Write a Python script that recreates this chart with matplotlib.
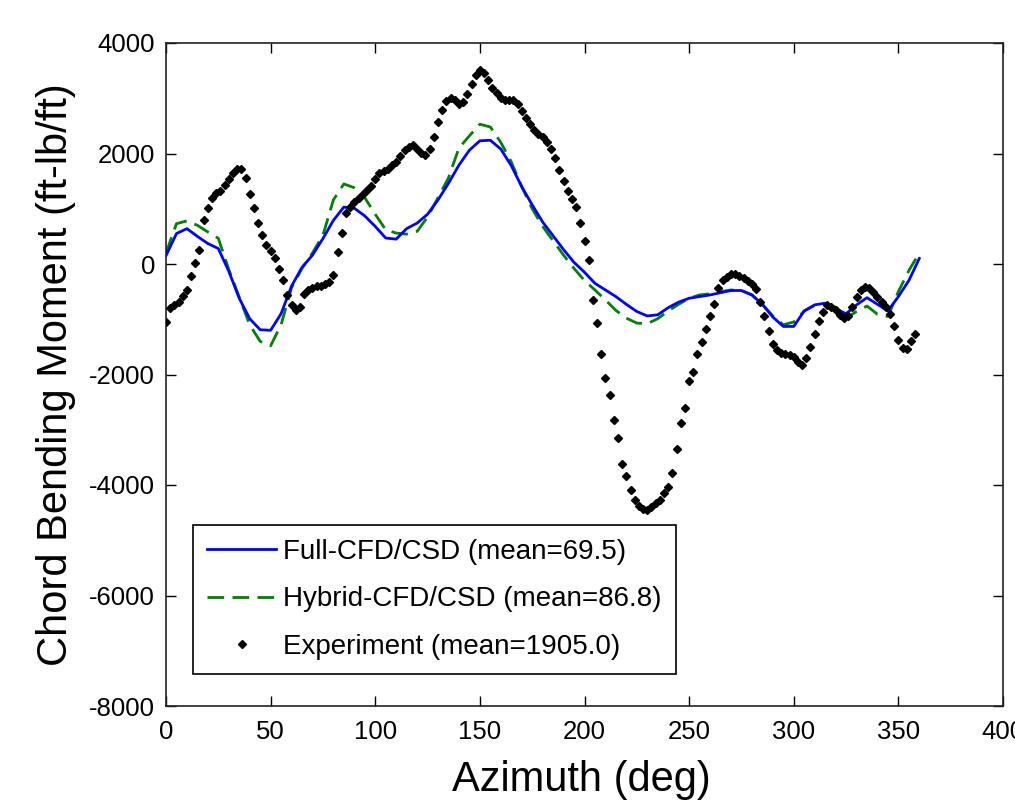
import matplotlib
matplotlib.use("Agg")
import matplotlib.pyplot as plt
import numpy as np

plt.rcParams['font.family'] = ['Liberation Sans', 'DejaVu Sans']
plt.rcParams['axes.unicode_minus'] = False

# ---- data ----
cfd_azimuth = list(range(0, 361, 5))
full_cfd = [150, 550, 640, 500, 370, 280, -130, -620, -990, -1190,
            -1200, -900, -400, -60, 160, 460, 790, 1030, 1010, 870,
            680, 470, 450, 640, 740, 900, 1160, 1460, 1790, 2060,
            2230, 2240, 2080, 1780, 1400, 1070, 760, 510, 260, 30,
            -150, -350, -470, -590, -730, -860, -940, -920, -790, -690,
            -620, -590, -560, -520, -480, -480, -560, -730, -960, -1130,
            -1130, -850, -740, -710, -810, -900, -740, -610, -730, -850,
            -590, -300, 100]
hybrid_cfd = [200, 730, 780, 700, 580, 465, -100, -600, -1100, -1400,
              -1480, -1100, -430, -80, 200, 520, 1160, 1450, 1380, 1200,
              900, 620, 560, 540, 590, 850, 1200, 1560, 2100, 2320,
              2530, 2480, 2200, 1850, 1400, 1000, 680, 420, 160, -80,
              -300, -470, -650, -840, -980, -1070, -1080, -990, -850, -730,
              -620, -560, -540, -500, -470, -480, -560, -730, -940, -1100,
              -1050, -850, -750, -710, -780, -980, -860, -760, -910, -950,
              -500, -120, 200]

exp_azimuth = list(range(0, 359, 2))
experiment = [-1050, -800, -750, -690, -580, -470, -220, 10, 250, 790,
              1020, 1200, 1290, 1330, 1430, 1540, 1640, 1720, 1720, 1560,
              1260, 1010, 750, 530, 350, 230, 100, -90, -290, -560,
              -740, -830, -770, -550, -470, -430, -400, -390, -360, -320,
              -200, 220, 560, 930, 1040, 1120, 1190, 1270, 1340, 1420,
              1540, 1640, 1680, 1720, 1790, 1850, 1950, 2060, 2110, 2150,
              2080, 2010, 1970, 2080, 2300, 2570, 2780, 2950, 3000, 2970,
              2890, 2930, 3080, 3260, 3420, 3510, 3460, 3330, 3190, 3090,
              3000, 2970, 2970, 2960, 2890, 2770, 2650, 2530, 2430, 2360,
              2290, 2200, 2080, 1910, 1700, 1500, 1330, 1180, 1030, 740,
              420, 80, -650, -1060, -1620, -2070, -2380, -2820, -3150, -3620,
              -3830, -4090, -4280, -4380, -4440, -4450, -4390, -4320, -4270, -4140,
              -4030, -3790, -3340, -2870, -2600, -2120, -1950, -1620, -1410, -1180,
              -950, -720, -440, -290, -230, -180, -180, -220, -260, -310,
              -360, -460, -680, -940, -1210, -1450, -1560, -1610, -1630, -1650,
              -1690, -1770, -1830, -1700, -1500, -1260, -1040, -870, -750, -780,
              -840, -920, -980, -950, -780, -590, -470, -420, -430, -500,
              -590, -680, -780, -900, -1120, -1380, -1520, -1540, -1400, -1270]

labels = ["Full-CFD/CSD (mean=69.5)",
          "Hybrid-CFD/CSD (mean=86.8)",
          "Experiment (mean=1905.0)"]
x_ticks = [0, 50, 100, 150, 200, 250, 300, 350, 400]
y_ticks = [-8000, -6000, -4000, -2000, 0, 2000, 4000]

# ---- figure ----
fig = plt.figure(figsize=(10.15, 8.02), dpi=100)
ax = fig.add_axes([166/1015, 96/802, 837/1015, 663/802])

ax.plot(cfd_azimuth, full_cfd, color='#0000ff', lw=2.0, label=labels[0], zorder=3)
ax.plot(cfd_azimuth, hybrid_cfd, color='#008000', lw=2.0, dashes=(6, 3),
        label=labels[1], zorder=2)
ax.plot(exp_azimuth, experiment, linestyle='none', marker='D', ms=4.1,
        color='black', label=labels[2], zorder=4)

ax.set_xlim(0, 400)
ax.set_ylim(-8000, 4000)
ax.set_xticks(x_ticks)
ax.set_yticks(y_ticks)
ax.tick_params(direction='in', length=7, width=1, top=True, right=True,
               labelsize=18.5, colors='black')
ax.tick_params(axis='x', pad=10)
ax.tick_params(axis='y', pad=8)
for s in ax.spines.values():
    s.set_linewidth(1.2)
    s.set_color('#222222')

ax.set_xlabel("Azimuth (deg)", fontsize=30)
ax.set_ylabel("Chord Bending Moment (ft-lb/ft)", fontsize=30)
ax.xaxis.set_label_coords(0.496, -0.081)
ax.yaxis.set_label_coords(-0.107, 0.5)

leg = ax.legend(loc='lower left', bbox_to_anchor=(0.0323, 0.0483),
                borderaxespad=0, fontsize=20, frameon=True, fancybox=False,
                edgecolor='black', framealpha=1, handlelength=2.5,
                handletextpad=0.25, labelspacing=0.78, borderpad=0.5,
                numpoints=1)
leg.get_frame().set_linewidth(1.2)

fig.savefig("out.png", dpi=100)
